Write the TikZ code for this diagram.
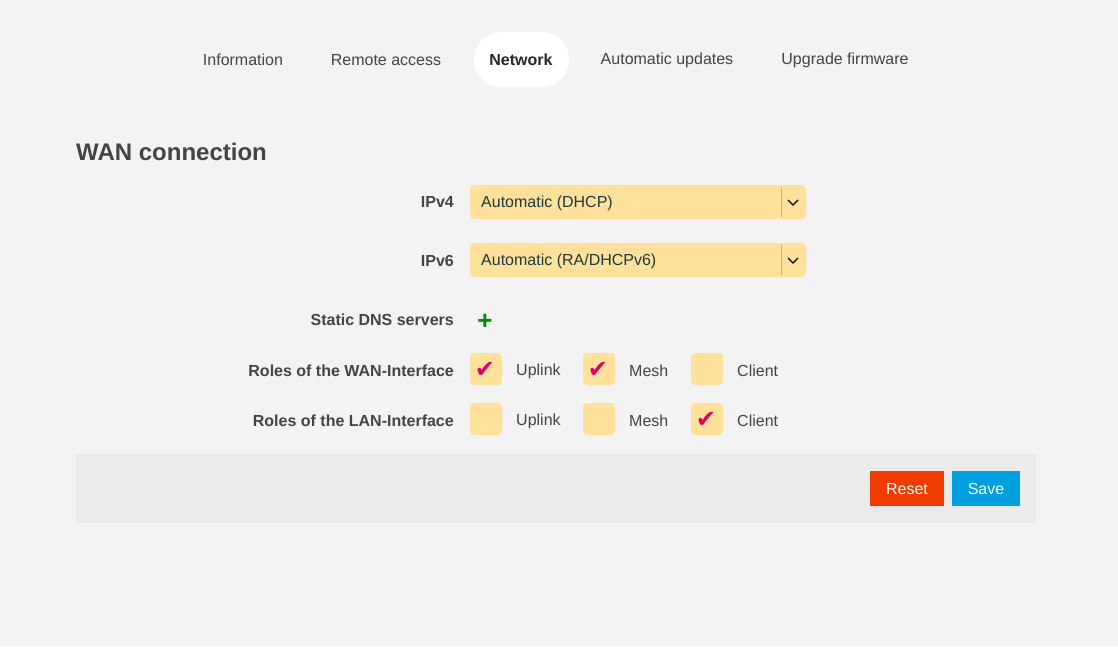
\documentclass[tikz,border=0pt]{standalone}
\usepackage{fontspec}
\setmainfont{Liberation Sans}
\newfontfamily\dejavu{DejaVu Sans}
\begin{document}
\begin{tikzpicture}[x=1pt,y=-1pt,
  txt/.style={text=txtc,inner sep=0pt,font=\fontsize{16}{19}\selectfont},
  lbl/.style={txt,font=\fontsize{16}{19}\selectfont\bfseries,anchor=east},
  chk/.style={text=chkc,inner sep=0pt,font=\dejavu\fontsize{24}{24}\selectfont}]
\definecolor{bgc}{HTML}{F3F3F3}
\definecolor{txtc}{HTML}{444444}
\definecolor{fieldc}{HTML}{FFE19C}
\definecolor{chkc}{HTML}{DC0067}
\definecolor{barc}{HTML}{EBEBEB}
\definecolor{resetc}{HTML}{F03C00}
\definecolor{savec}{HTML}{009FE0}
\definecolor{darkt}{HTML}{1E3A3A}
\fill[bgc] (0,0) rectangle (1118,646);
\useasboundingbox (0,0) rectangle (1118,646);
% tabs
\fill[white,rounded corners=27pt] (474,32) rectangle (569,87);
\node[txt] (t1) at (243,60) {Information};
\node[txt] (t2) at (386,60) {Remote access};
\node[txt,font=\fontsize{16}{19}\selectfont\bfseries,text=black!85] (t3) at (521,60) {Network};
\node[txt] (t4) at (667,60) {Automatic updates};
\node[txt] (t5) at (845,60) {Upgrade firmware};
\node[txt,anchor=west,font=\fontsize{24}{28}\selectfont\bfseries] (h) at (76,152) {WAN connection};
% labels
\node[lbl] (l1) at (454,202) {IPv4};
\node[lbl] (l2) at (454,261) {IPv6};
\node[lbl] (l3) at (454,320) {Static DNS servers};
\node[lbl] (l4) at (454,371) {Roles of the WAN-Interface};
\node[lbl] (l5) at (454,421) {Roles of the LAN-Interface};
% dropdowns
\foreach \y in {185,243}{
  \fill[fieldc,rounded corners=4pt] (470,\y) rectangle (806,\y+34);
  \draw[brown!60!fieldc,line width=1pt] (781.5,\y+2) -- (781.5,\y+32);
  \draw[black,line width=1.3pt] (788,\y+15) -- (793,\y+20) -- (798,\y+15);
}
\node[txt,anchor=west,text=darkt] (d1) at (481,203) {Automatic (DHCP)};
\node[txt,anchor=west,text=darkt] (d2) at (481,261) {Automatic (RA/DHCPv6)};
\node[text=green!55!black,inner sep=0pt,font=\fontsize{26}{26}\selectfont\bfseries] (plus) at (485,322) {+};
% checkboxes
\foreach \x in {470,583,691}{
  \foreach \y in {353,403}{
    \fill[fieldc,rounded corners=4pt] (\x,\y) rectangle (\x+32,\y+32);
  }}
\node[chk] (c1) at (485,370) {✔};
\node[chk] (c2) at (598,370) {✔};
\node[chk] (c3) at (706,420) {✔};
\foreach \y in {371,421}{
  \node[txt,anchor=west] at (516,\y) {Uplink};
  \node[txt,anchor=west] at (629,\y) {Mesh};
  \node[txt,anchor=west] at (737,\y) {Client};
}
% bar
\fill[barc] (76,454) rectangle (1036,523);
\fill[resetc] (870,471) rectangle (944,506);
\node[txt,text=white] (reset) at (907,489) {Reset};
\fill[savec] (952,471) rectangle (1020,506);
\node[txt,text=white] (save) at (986,489) {Save};
\end{tikzpicture}
\end{document}
